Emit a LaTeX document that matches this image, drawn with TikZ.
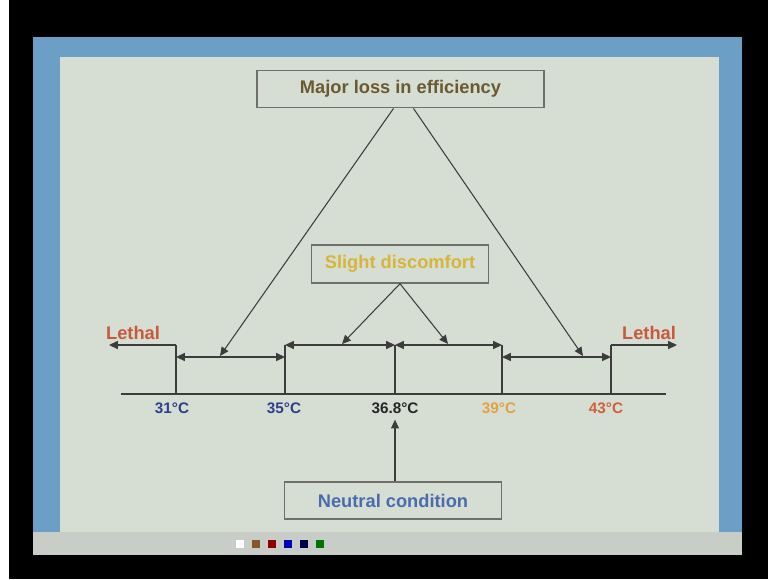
\documentclass[tikz,border=0pt]{standalone}
\usepackage{fontspec}
\setmainfont{Liberation Sans}
\usetikzlibrary{arrows.meta, positioning}
\definecolor{SlideCream}{HTML}{D6DDD2}
\definecolor{FrameBlue}{HTML}{6C9FC6}
\definecolor{BarGrey}{HTML}{C9CDC8}
\definecolor{BoxGrey}{HTML}{6E6E6A}
\definecolor{LineGrey}{HTML}{3C3C3C}
\definecolor{LossBrown}{HTML}{6A5A32}
\definecolor{SlightGold}{HTML}{D6B53A}
\definecolor{NeutralBlue}{HTML}{4A6CAE}
\definecolor{LethalRed}{HTML}{C65A3E}
\definecolor{TempBlue}{HTML}{2E3E8C}
\definecolor{TempOrange}{HTML}{E2A244}
\definecolor{TempRed}{HTML}{D0603A}

\tikzset{
  box/.style={draw=BoxGrey, line width=0.8pt, inner sep=0pt},
  lbl/.style={font=\bfseries\fontsize{10.4}{12}\selectfont},
  temp/.style={font=\bfseries\fontsize{8.7}{10}\selectfont},
  tip/.tip={Triangle[length=5pt,width=4.5pt]},
  pointer/.style={-tip, line width=0.6pt, draw=LineGrey},
  span/.style={tip-tip, line width=0.9pt, draw=LineGrey},
  tick/.style={line width=0.9pt, draw=LineGrey}
}

\begin{document}
\begin{tikzpicture}[x=0.02cm, y=-0.02cm]
\useasboundingbox (0,0) rectangle (768,579);

% --- SCREEN ---
\fill[black] (0,0) rectangle (768,579);
\fill[white] (0,0) rectangle (9,579);
\fill[FrameBlue] (33,37) rectangle (742,555);
\fill[SlideCream] (60,57) rectangle (719,532);
\fill[BarGrey] (33,532) rectangle (742,555);
\foreach \x/\c in {240/white, 256/brown!70!black, 272/red!55!black, 288/blue!70!black, 304/blue!30!black, 320/green!45!black}
  \fill[\c] (\x-4,540) rectangle (\x+4,548);

% --- BOXES ---
\node[box, lbl, text=LossBrown, minimum width=5.74cm, minimum height=0.75cm] (loss) at (400.5,89) {Major loss in efficiency};
\node[box, lbl, text=SlightGold, minimum width=3.54cm, minimum height=0.76cm] (slight) at (400,264) {Slight discomfort};
\node[box, lbl, text=NeutralBlue, minimum width=4.34cm, minimum height=0.74cm] (neutral) at (393,500.5) {Neutral condition};

% --- TEMPERATURE AXIS ---
\coordinate (axisL) at (121,394);
\coordinate (axisR) at (666,394);
\draw[tick] (axisL) -- (axisR);

\coordinate (b31) at (176,394);  \coordinate (h31) at (176,345);
\coordinate (b35) at (285,394);  \coordinate (h35) at (285,345);
\coordinate (b37) at (395,394);  \coordinate (h37) at (395,345);
\coordinate (b39) at (502,394);  \coordinate (h39) at (502,345);
\coordinate (b43) at (611,394);  \coordinate (h43) at (611,345);
\foreach \t in {31,35,37,39,43}
  \draw[tick] (b\t) -- (h\t);

\node[temp, text=TempBlue] (t31) at (172,408) {31°C};
\node[temp, text=TempBlue] (t35) at (284,408) {35°C};
\node[temp, text=black!85] (t37) at (395,408) {36.8°C};
\node[temp, text=TempOrange] (t39) at (499,408) {39°C};
\node[temp, text=TempRed] (t43) at (606,408) {43°C};

% Lethal ends
\node[lbl, text=LethalRed] (lethalL) at (133,333) {Lethal};
\node[lbl, text=LethalRed] (lethalR) at (649,333) {Lethal};
\coordinate (endL) at (109,345);
\coordinate (endR) at (677,345);
\draw[pointer, line width=0.9pt] (h31) -- (endL);
\draw[pointer, line width=0.9pt] (h43) -- (endR);

% Ranges
\coordinate (m31) at (176,357);  \coordinate (m35) at (285,357);
\coordinate (m39) at (502,357);  \coordinate (m43) at (611,357);
\draw[span] (m31) -- (m35);
\draw[span] (h35) -- (h37);
\draw[span] (h37) -- (h39);
\draw[span] (m39) -- (m43);

% --- POINTERS ---
\coordinate (lossA) at (220,356);
\coordinate (lossB) at (583,356);
\coordinate (slightA) at (342,344);
\coordinate (slightB) at (448,344);
\draw[pointer] ([xshift=-0.14cm]loss.south) -- (lossA);
\draw[pointer] ([xshift=0.26cm]loss.south) -- (lossB);
\draw[pointer] (slight.south) -- (slightA);
\draw[pointer] (slight.south) -- (slightB);
\draw[pointer] (neutral.north -| t37) -- (t37.south);

\end{tikzpicture}
\end{document}
